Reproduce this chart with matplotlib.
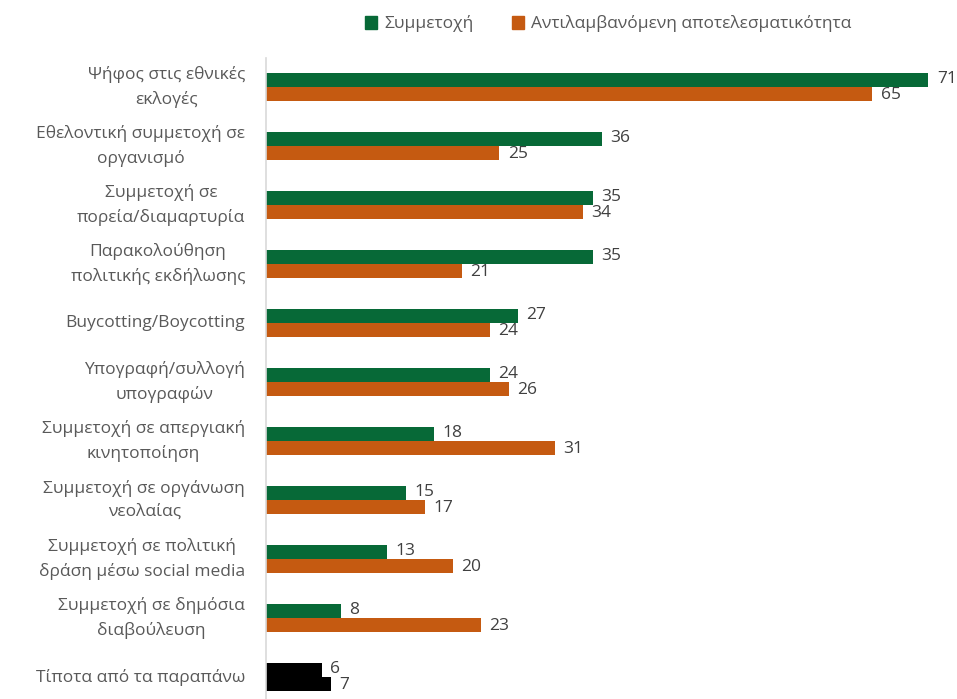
import matplotlib.pyplot as plt
import numpy as np
from matplotlib.patches import Patch

categories = [
    "Ψήφος στις εθνικές\nεκλογές",
    "Εθελοντική συμμετοχή σε\nοργανισμό",
    "Συμμετοχή σε\nπορεία/διαμαρτυρία",
    "Παρακολούθηση\nπολιτικής εκδήλωσης",
    "Buycotting/Boycotting",
    "Υπογραφή/συλλογή\nυπογραφών",
    "Συμμετοχή σε απεργιακή\nκινητοποίηση",
    "Συμμετοχή σε οργάνωση\nνεολαίας",
    "Συμμετοχή σε πολιτική\nδράση μέσω social media",
    "Συμμετοχή σε δημόσια\nδιαβούλευση",
    "Τίποτα από τα παραπάνω",
]
participation = [71, 36, 35, 35, 27, 24, 18, 15, 13, 8, 6]
effectiveness = [65, 25, 34, 21, 24, 26, 31, 17, 20, 23, 7]

green = "#076937"
orange = "#c55a11"
text_gray = "#595959"

plt.rcParams['font.family'] = ['Open Sans', 'DejaVu Sans']

fig = plt.figure(figsize=(9.57, 6.99), dpi=100)
ax = fig.add_axes([266 / 957, 0, 1 - 266 / 957, 1 - 57.5 / 699])

y = np.arange(len(categories))
h = 14 / 59
cols_a = [green] * (len(categories) - 1) + ["black"]
cols_b = [orange] * (len(categories) - 1) + ["black"]
ax.barh(y - h / 2, participation, height=h, color=cols_a)
ax.barh(y + h / 2, effectiveness, height=h, color=cols_b)

for i in range(len(categories)):
    ax.text(participation[i] + 0.9, y[i] - h / 2 - 0.02, str(participation[i]), va="center", ha="left",
            fontsize=12.5, color="#404040")
    ax.text(effectiveness[i] + 0.9, y[i] + h / 2 + 0.02, str(effectiveness[i]), va="center", ha="left",
            fontsize=12.5, color="#404040")

ax.set_xlim(0, (957 - 266) / 9.33)
ax.set_ylim(-0.5 + (699 - 57.5) / 59, -0.5)
ax.set_yticks(y)
ax.set_yticklabels(categories, fontsize=12.5, color=text_gray, multialignment="center")
for lab in ax.get_yticklabels():
    lab.set_linespacing(1.55)
    lab.set_verticalalignment("center")
ax.tick_params(axis="y", length=0, pad=15)
ax.set_xticks([])
for s in ["top", "right", "bottom"]:
    ax.spines[s].set_visible(False)
ax.spines["left"].set_color("#d9d9d9")
ax.spines["left"].set_linewidth(1.2)

handles = [Patch(color=green, label="Συμμετοχή"),
           Patch(color=orange, label="Αντιλαμβανόμενη αποτελεσματικότητα")]
fig.legend(handles=handles, loc="center", bbox_to_anchor=(608 / 957, 1 - 24 / 699), ncol=2,
           frameon=False, fontsize=12.5, handlelength=0.7, handleheight=0.7, handletextpad=0.4,
           columnspacing=2.2, labelcolor=text_gray)

fig.savefig("out.png", dpi=100)
